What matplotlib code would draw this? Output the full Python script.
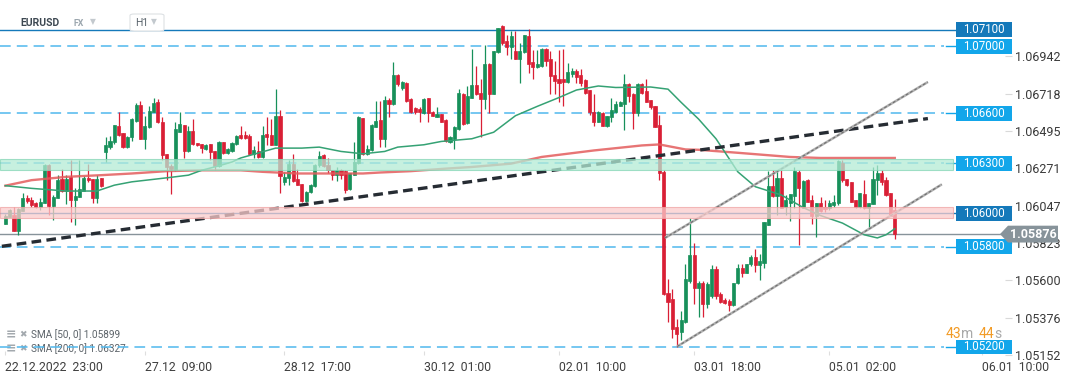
import matplotlib
matplotlib.use('Agg')
import numpy as np
import matplotlib.pyplot as plt
import matplotlib.transforms as mtransforms
from matplotlib.patches import Rectangle, Polygon, FancyBboxPatch

plt.rcParams['font.family'] = ['Roboto', 'DejaVu Sans']

# EURUSD H1 candles (one value per bar)
opens = [
    1.05936, 1.05979, 1.05991, 1.05892, 1.06015, 1.0609, 1.0608, 1.0606, 1.06037, 1.06065,
    1.06292, 1.06044, 1.06094, 1.06205, 1.06134, 1.06219, 1.0608, 1.061, 1.06134, 1.06215,
    1.06209, 1.06094, 1.06215, 1.06368, 1.06397, 1.06427, 1.06522, 1.0648, 1.06397, 1.06457,
    1.06555, 1.06649, 1.06447, 1.06516, 1.06609, 1.06665, 1.06546, 1.06357, 1.06284, 1.06258,
    1.0649, 1.0653, 1.06371, 1.06496, 1.06423, 1.06415, 1.06387, 1.06415, 1.06375, 1.06284,
    1.06427, 1.06363, 1.06371, 1.06415, 1.0647, 1.0647, 1.06463, 1.06357, 1.06371, 1.06338,
    1.06475, 1.0647, 1.06411, 1.06581, 1.06189, 1.06213, 1.06298, 1.06209, 1.06179, 1.06074,
    1.06126, 1.06166, 1.06288, 1.06347, 1.06288, 1.06258, 1.06229, 1.06258, 1.06252, 1.06144,
    1.06229, 1.06302, 1.06569, 1.06357, 1.06377, 1.0652, 1.06559, 1.06443, 1.06678, 1.06654,
    1.06827, 1.0675, 1.06783, 1.06688, 1.06629, 1.06625, 1.06601, 1.0669, 1.06609, 1.06579,
    1.06595, 1.06559, 1.06427, 1.06443, 1.06506, 1.06714, 1.06542, 1.06694, 1.06767, 1.06724,
    1.06684, 1.06892, 1.06718, 1.06965, 1.0712, 1.07035, 1.06995, 1.06971, 1.06926, 1.06965,
    1.07064, 1.06906, 1.06876, 1.06882, 1.06985, 1.06922, 1.06827, 1.06803, 1.06803, 1.06787,
    1.06833, 1.06852, 1.06827, 1.06797, 1.06739, 1.06609, 1.06549, 1.06601, 1.06522, 1.06575,
    1.06609, 1.06644, 1.06654, 1.06773, 1.06714, 1.06599, 1.06773, 1.06733, 1.06678, 1.06641,
    1.0653, 1.06245, 1.05526, 1.05486, 1.05318, 1.05288, 1.05348, 1.05595, 1.0575, 1.05556,
    1.05585, 1.05456, 1.05506, 1.0567, 1.0552, 1.0548, 1.05478, 1.05453, 1.05581, 1.05674,
    1.05645, 1.05694, 1.0574, 1.05692, 1.057, 1.05932, 1.06164, 1.06104, 1.06213, 1.06041,
    1.06065, 1.06104, 1.06249, 1.06035, 1.06199, 1.0608, 1.05987, 1.0606, 1.06041, 1.06035,
    1.0605, 1.0606, 1.06304, 1.06209, 1.06189, 1.0608, 1.06037, 1.06114, 1.06031, 1.06059,
    1.06199, 1.06243, 1.06199, 1.0612, 1.06021,
]
highs = [
    1.05995, 1.06025, 1.06041, 1.06031, 1.0612, 1.0611, 1.061, 1.06066, 1.0609, 1.06298,
    1.06298, 1.0611, 1.06229, 1.06268, 1.06229, 1.06322, 1.0615, 1.06322, 1.06221, 1.06298,
    1.06209, 1.06229, 1.06215, 1.06457, 1.06463, 1.0653, 1.06605, 1.06482, 1.06464, 1.06569,
    1.0666, 1.06674, 1.06585, 1.06644, 1.06694, 1.06684, 1.06575, 1.06357, 1.06298, 1.06549,
    1.06605, 1.0653, 1.06526, 1.06565, 1.06423, 1.06415, 1.06417, 1.06415, 1.06375, 1.06431,
    1.06429, 1.06393, 1.06429, 1.0647, 1.06522, 1.06496, 1.06476, 1.06401, 1.06431, 1.06522,
    1.06577, 1.06565, 1.06744, 1.06621, 1.06249, 1.06318, 1.06357, 1.06268, 1.06179, 1.06134,
    1.06179, 1.06298, 1.06371, 1.06357, 1.06332, 1.06258, 1.06278, 1.06268, 1.06258, 1.06243,
    1.06427, 1.06581, 1.06569, 1.06411, 1.06536, 1.06674, 1.06674, 1.06704, 1.06694, 1.06906,
    1.06833, 1.06793, 1.06787, 1.06694, 1.06635, 1.06635, 1.06694, 1.06694, 1.06615, 1.06635,
    1.06595, 1.06565, 1.06463, 1.06526, 1.06744, 1.0672, 1.06763, 1.06985, 1.06882, 1.06803,
    1.07011, 1.06902, 1.06975, 1.0711, 1.0713, 1.0707, 1.0709, 1.0709, 1.07021, 1.0707,
    1.07104, 1.06981, 1.06981, 1.06991, 1.06991, 1.06971, 1.06912, 1.06977, 1.06985, 1.06902,
    1.06872, 1.06862, 1.06862, 1.06803, 1.06739, 1.06714, 1.06615, 1.06605, 1.06585, 1.06694,
    1.06674, 1.06674, 1.06833, 1.06783, 1.0672, 1.06783, 1.06779, 1.06803, 1.06678, 1.06641,
    1.06589, 1.06258, 1.05605, 1.05545, 1.05367, 1.05417, 1.05694, 1.05971, 1.05823, 1.05595,
    1.05595, 1.05591, 1.05688, 1.05685, 1.05532, 1.05496, 1.05486, 1.05585, 1.05698, 1.05698,
    1.05698, 1.0575, 1.05789, 1.05754, 1.05948, 1.06252, 1.06258, 1.06258, 1.06258, 1.0611,
    1.06114, 1.06278, 1.06258, 1.06203, 1.06209, 1.0611, 1.0606, 1.061, 1.0608, 1.0608,
    1.0611, 1.06318, 1.06318, 1.06209, 1.06189, 1.0608, 1.0612, 1.06199, 1.0606, 1.06278,
    1.06288, 1.06258, 1.06219, 1.0612, 1.06084,
]
lows = [
    1.05936, 1.05977, 1.05892, 1.05869, 1.06015, 1.0606, 1.06041, 1.06031, 1.06021, 1.0606,
    1.05991, 1.05961, 1.0609, 1.0613, 1.06055, 1.05948, 1.05928, 1.061, 1.06132, 1.06189,
    1.0606, 1.0606, 1.06161, 1.06308, 1.06387, 1.06417, 1.06466, 1.06393, 1.06393, 1.06433,
    1.06549, 1.06443, 1.06387, 1.06512, 1.06605, 1.06542, 1.06318, 1.06199, 1.06114, 1.06252,
    1.06486, 1.06332, 1.06368, 1.06411, 1.06405, 1.06363, 1.06377, 1.06318, 1.06258, 1.06278,
    1.06357, 1.06357, 1.0637, 1.06411, 1.06447, 1.06447, 1.06357, 1.06332, 1.06332, 1.06332,
    1.06411, 1.06407, 1.06407, 1.06124, 1.06169, 1.06169, 1.06189, 1.06169, 1.0607, 1.0607,
    1.0612, 1.0616, 1.06278, 1.06278, 1.06239, 1.06199, 1.06193, 1.06209, 1.0612, 1.0614,
    1.06229, 1.06298, 1.06352, 1.06347, 1.06371, 1.06516, 1.06397, 1.06397, 1.06575, 1.06649,
    1.06763, 1.06739, 1.06668, 1.06601, 1.06595, 1.06546, 1.06595, 1.06546, 1.06581, 1.06575,
    1.06546, 1.06427, 1.06423, 1.06387, 1.06502, 1.0653, 1.06536, 1.0669, 1.06708, 1.06457,
    1.06625, 1.06599, 1.06714, 1.06963, 1.07011, 1.06951, 1.06922, 1.06922, 1.06783, 1.06962,
    1.06843, 1.06807, 1.06872, 1.06878, 1.06882, 1.06714, 1.06714, 1.06666, 1.06641, 1.06779,
    1.06819, 1.06779, 1.06763, 1.06714, 1.06589, 1.06522, 1.06546, 1.06522, 1.06516, 1.06546,
    1.06601, 1.06641, 1.06502, 1.06668, 1.06506, 1.06581, 1.06714, 1.06665, 1.06625, 1.06516,
    1.06199, 1.05512, 1.05348, 1.05254, 1.05199, 1.05243, 1.05342, 1.05585, 1.05456, 1.05377,
    1.05377, 1.05431, 1.05496, 1.05486, 1.05466, 1.05456, 1.05413, 1.05447, 1.05575, 1.05619,
    1.05645, 1.05685, 1.05651, 1.05599, 1.05674, 1.0593, 1.061, 1.05991, 1.06031, 1.05991,
    1.05952, 1.06031, 1.05813, 1.06031, 1.06066, 1.05936, 1.05857, 1.06011, 1.06011, 1.06021,
    1.06041, 1.0605, 1.06189, 1.06167, 1.06066, 1.06031, 1.06031, 1.06027, 1.05912, 1.06055,
    1.0611, 1.06169, 1.06106, 1.05982, 1.05848,
]
closes = [
    1.05983, 1.06019, 1.05892, 1.06027, 1.0609, 1.06074, 1.0605, 1.06037, 1.0607, 1.06292,
    1.06044, 1.061, 1.06199, 1.06134, 1.06209, 1.0608, 1.06104, 1.06144, 1.06215, 1.06199,
    1.06094, 1.06209, 1.06166, 1.06407, 1.06435, 1.0653, 1.06472, 1.06397, 1.06457, 1.06565,
    1.06649, 1.06447, 1.06522, 1.06613, 1.0666, 1.06546, 1.06347, 1.06278, 1.06264, 1.06506,
    1.06536, 1.06371, 1.06492, 1.06417, 1.06407, 1.06391, 1.06411, 1.06368, 1.06284, 1.06427,
    1.06363, 1.06387, 1.06421, 1.06466, 1.06453, 1.06453, 1.06357, 1.06377, 1.06338, 1.0647,
    1.0646, 1.06411, 1.06581, 1.06223, 1.06219, 1.06298, 1.06193, 1.06169, 1.06074, 1.0613,
    1.06173, 1.06292, 1.06344, 1.06282, 1.06258, 1.06229, 1.06258, 1.06229, 1.0614, 1.06239,
    1.06308, 1.06575, 1.06357, 1.06387, 1.0653, 1.06555, 1.06447, 1.06678, 1.06654, 1.06827,
    1.06773, 1.06787, 1.06674, 1.06609, 1.06609, 1.06605, 1.06688, 1.06601, 1.06585, 1.06595,
    1.06549, 1.06431, 1.06457, 1.06516, 1.0672, 1.06536, 1.06704, 1.06767, 1.06714, 1.06684,
    1.06892, 1.06718, 1.06971, 1.0711, 1.07021, 1.06995, 1.07064, 1.06926, 1.06971, 1.0707,
    1.06896, 1.06876, 1.06892, 1.06985, 1.06912, 1.06823, 1.06793, 1.06783, 1.06787, 1.06846,
    1.06852, 1.06819, 1.06779, 1.0672, 1.06605, 1.06549, 1.06605, 1.06526, 1.06581, 1.06621,
    1.06654, 1.06665, 1.06773, 1.06704, 1.06601, 1.06773, 1.06724, 1.06668, 1.06635, 1.06516,
    1.06239, 1.05516, 1.05472, 1.05308, 1.05278, 1.05361, 1.05605, 1.0575, 1.05556, 1.05585,
    1.05456, 1.05575, 1.0567, 1.05506, 1.05472, 1.05461, 1.05453, 1.05585, 1.05674, 1.05645,
    1.05698, 1.0574, 1.0569, 1.05716, 1.05948, 1.06166, 1.06104, 1.06213, 1.06035, 1.0608,
    1.06114, 1.06252, 1.0615, 1.06193, 1.0607, 1.05987, 1.0606, 1.06015, 1.06025, 1.0606,
    1.0607, 1.06312, 1.06199, 1.06173, 1.0607, 1.06037, 1.0612, 1.06031, 1.0606, 1.06209,
    1.06243, 1.06189, 1.0611, 1.05987, 1.05876,
]

# moving averages, sampled along the drawn curves (bar index, value)
sma50_bar = [0, 6, 14, 21, 25, 29, 37, 42, 45, 49, 52, 54, 62, 68, 72, 77, 82, 87, 90, 96,
             100, 107, 112, 117, 122, 127, 131, 136, 140, 148, 152, 155, 159, 163, 168, 172,
             178, 183, 187, 192, 197, 200, 202, 204]
sma50_val = [1.06166, 1.0615, 1.06134, 1.06134, 1.06169, 1.06189, 1.06213, 1.06229, 1.06258,
             1.06285, 1.06308, 1.06332, 1.06391, 1.06391, 1.06397, 1.06371, 1.06357, 1.06371,
             1.06397, 1.06411, 1.06431, 1.06447, 1.06486, 1.06585, 1.06641, 1.06694, 1.06739,
             1.06763, 1.06754, 1.06757, 1.06744, 1.06665, 1.06565, 1.06447, 1.06249, 1.0616,
             1.0611, 1.06035, 1.05987, 1.05942, 1.05872, 1.05853, 1.05872, 1.05908]
sma200_bar = [0, 6, 14, 22, 29, 37, 45, 54, 59, 67, 82, 86, 93, 101, 107, 116, 123, 135, 146,
              150, 156, 159, 168, 180, 187, 204]
sma200_val = [1.06166, 1.06199, 1.06219, 1.06229, 1.06239, 1.06253, 1.06258, 1.06258, 1.06249,
              1.06239, 1.06239, 1.06245, 1.06253, 1.06268, 1.06278, 1.06298, 1.06338, 1.06377,
              1.06407, 1.06413, 1.06383, 1.06381, 1.06363, 1.06338, 1.06332, 1.06332]

# drawn trend lines (bar index, price)
trend_bar, trend_val = [-0.8, 211.6], [1.05803, 1.06568]
chan_up_bar, chan_up_val = [151.3, 211.6], [1.05853, 1.06787]
chan_lo_bar, chan_lo_val = [154.1, 214.8], [1.05203, 1.06174]

# horizontal levels and zones
levels = [1.071, 1.070, 1.066, 1.063, 1.060, 1.058, 1.052]
level_solid = [True, False, False, False, True, False, False]
green_zone = (1.06258, 1.06328)
red_zone = (1.05971, 1.06037)
last_price = 1.05876

price_ticks = [1.05152, 1.05376, 1.05600, 1.05823, 1.06047, 1.06271, 1.06495, 1.06718, 1.06942]
time_ticks = [0, 32, 64, 96, 127, 158, 189, 224]
time_labels = ['22.12.2022  23:00', '27.12  09:00', '28.12  17:00', '30.12  01:00',
               '02.01  10:00', '03.01  18:00', '05.01  02:00', '06.01  10:00']

GREEN = '#17905a'
RED = '#d91f35'
DARK_BLUE = '#1479ba'
LIGHT_BLUE = '#12a6ea'

W, H = 1072, 382
fig = plt.figure(figsize=(W / 100, H / 100), dpi=100)
ax_right = 1005
ax_bottom = 355
ax = fig.add_axes([0, 1 - ax_bottom / H, ax_right / W, ax_bottom / H])
bar_px, first_px = 4.36, 5.33
ax.set_xlim(-first_px / bar_px, (ax_right - first_px) / bar_px)
ax.set_ylim(1.05170, 1.07278)
pp = (1.07278 - 1.05170) / ax_bottom  # price per pixel
trans = mtransforms.blended_transform_factory(ax.transAxes, ax.transData)

# candles
x = np.arange(len(closes))
o, h, l, c = (np.array(v) for v in (opens, highs, lows, closes))
cols = np.where(c >= o, GREEN, RED)
ax.vlines(x, l, h, colors=cols, lw=0.9, zorder=2)
ax.bar(x, c - o, bottom=o, width=0.72, color=cols, edgecolor=cols, linewidth=0.5, zorder=2.1)

# moving averages
ax.plot(sma200_bar, sma200_val, color='#e35d5d', lw=1.7, alpha=0.85, zorder=2.4)
ax.plot(sma50_bar, sma50_val, color='#35a274', lw=1.1, zorder=2.5)

# trend lines
ax.plot(trend_bar, trend_val, color='#262c33', lw=2.4, dashes=(2.9, 1.6), zorder=2.6)
for bx, by in [(chan_up_bar, chan_up_val), (chan_lo_bar, chan_lo_val)]:
    ax.plot(bx, by, color='#b0b0b0', lw=1.8, zorder=2.6, solid_capstyle='butt')
    ax.plot(bx, by, color='#6e6e6e', lw=0.8, dashes=(2.5, 2), zorder=2.7)

# zones (drawn on top, semi transparent)
zone_end = 953 / ax_right
ax.axhspan(*green_zone, xmin=0, xmax=zone_end, fc='#b3ebd5', ec='#86d6b6', lw=0.8,
           alpha=0.75, zorder=3)
ax.axhspan(*red_zone, xmin=0, xmax=zone_end, fc='#fbcccc', ec='#efa5a5', lw=0.8,
           alpha=0.75, zorder=3)

# level lines with value boxes
for lvl, solid in zip(levels, level_solid):
    col = DARK_BLUE if solid else LIGHT_BLUE
    if solid:
        ax.axhline(lvl, xmin=0, xmax=956 / ax_right, color=col, lw=1.0, zorder=1.5)
    else:
        ax.axhline(lvl, xmin=0, xmax=944 / ax_right, color='#4fb8ee', lw=1.1,
                   dashes=(7, 4), zorder=1.5)
        ax.plot([946 / ax_right, 956 / ax_right], [lvl, lvl], transform=trans,
                color=col, lw=1.0, clip_on=False, zorder=1.5)
    ax.add_patch(Rectangle((956 / ax_right, lvl - 7.5 * pp), 56 / ax_right, 15 * pp,
                           transform=trans, fc=col, ec='none', clip_on=False, zorder=6))
    ax.text(984 / ax_right, lvl, f'{lvl:.5f}', transform=trans, ha='center', va='center',
            fontsize=8.3, color='white', zorder=7, clip_on=False)

# last price line and marker
ax.axhline(last_price, color='#87939a', lw=1.0, zorder=1.6)
lp = last_price
ax.add_patch(Polygon([(1000 / ax_right, lp), (1008 / ax_right, lp + 8.5 * pp),
                      (1058 / ax_right, lp + 8.5 * pp), (1058 / ax_right, lp - 8.5 * pp),
                      (1008 / ax_right, lp - 8.5 * pp)], closed=True, transform=trans,
                     fc='#87939a', ec='none', clip_on=False, zorder=6))
ax.text(1033 / ax_right, lp, f'{lp:.5f}', transform=trans, ha='center', va='center',
        fontsize=9, fontweight='bold', color='white', zorder=7, clip_on=False)

# axes
for s in ax.spines.values():
    s.set_visible(False)
ax.yaxis.tick_right()
ax.set_yticks(price_ticks)
ax.set_yticklabels([f'{t:.5f}' for t in price_ticks])
ax.tick_params(axis='y', length=5, width=0.8, color='#d9d9d9', pad=2,
               labelsize=9, labelcolor='#3a3a3a')
ax.set_xticks(time_ticks)
ax.set_xticklabels(time_labels)
ax.tick_params(axis='x', length=3, width=0.8, direction='in', color='#dedede', pad=4,
               labelsize=8.8, labelcolor='#3f3f3f')
for lbl in ax.get_xticklabels():
    lbl.set_ha('left')

# header
def fx(px):
    return px / W

def fy(py):
    return 1 - py / H

fig.text(fx(20), fy(23), 'EURUSD', fontsize=7.5, fontweight='bold', color='#3d4852',
         va='center', zorder=10)
fig.text(fx(73), fy(24), 'FX', fontsize=6.3, fontweight='bold', color='#9ba6ae',
         va='center', zorder=10)
fig.text(fx(90), fy(22), '▼', fontsize=5.5, color='#c3c9ce', va='center', zorder=10)
fig.patches.append(FancyBboxPatch((fx(130), fy(31)), fx(34), 17 / H,
                                  boxstyle='round,pad=0,rounding_size=0.004',
                                  transform=fig.transFigure, fc='white', ec='#dde1e4',
                                  lw=0.8, zorder=9))
fig.text(fx(135), fy(23), 'H1', fontsize=7.5, color='#5a646c', va='center', zorder=10)
fig.text(fx(151), fy(22), '▼', fontsize=5.5, color='#c3c9ce', va='center', zorder=10)

# indicator legend (bottom left, under the level lines)
for py, label in [(335, 'SMA [50, 0] 1.05899'), (349, 'SMA [200, 0] 1.06327')]:
    ax.text(fx(6), fy(py), '≡', transform=fig.transFigure, fontsize=9, fontweight='bold',
            color='#a3a9ae', va='center', zorder=1)
    ax.text(fx(19), fy(py), '✖', transform=fig.transFigure, fontsize=6.5,
            color='#a3a9ae', va='center', zorder=1)
    ax.text(fx(31), fy(py), label, transform=fig.transFigure, fontsize=7.2,
            color='#5c6369', va='center', zorder=1)

# countdown to next bar
for px, txt, col in [(946, '43', '#f29b26'), (960.5, 'm', '#a9a9a9'),
                     (979, '44', '#f29b26'), (994.5, 's', '#a9a9a9')]:
    fig.text(fx(px), fy(334), txt, fontsize=10, color=col, va='center', zorder=10)

plt.savefig('out.png', dpi=100)
